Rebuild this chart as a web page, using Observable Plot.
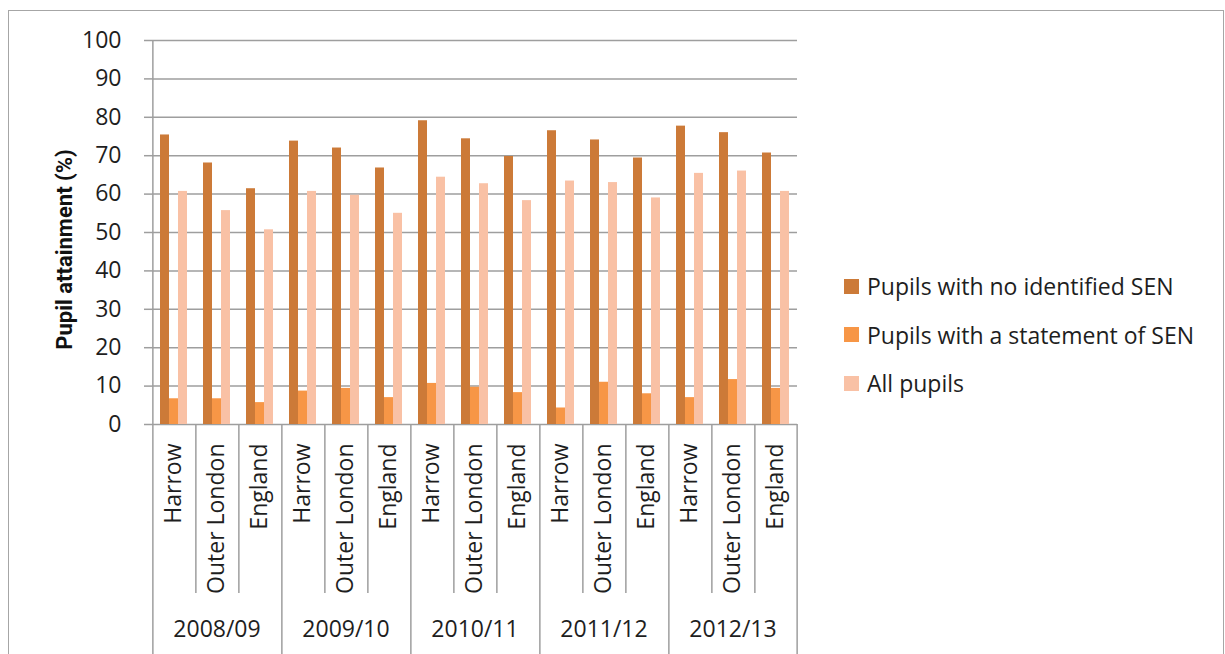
<!DOCTYPE html>
<html>
<head>
<meta charset="utf-8">
<script src="https://cdn.jsdelivr.net/npm/d3@7"></script>
<script src="https://cdn.jsdelivr.net/npm/@observablehq/plot@0.6"></script>
<style>
  html, body { margin: 0; padding: 0; background: #fff; width: 1225px; height: 654px; overflow: hidden; }
  #frame { position: absolute; left: 8px; top: 10px; width: 1216px; height: 700px; border: 1.5px solid #a6a6a6; box-sizing: border-box; }
  #chart { position: absolute; left: 0; top: 0; }
  #legend { position: absolute; left: 844px; top: 262px; font-family: "Open Sans", sans-serif; font-size: 23px; color: #1e1e1e; }
  #legend .row { display: flex; align-items: center; height: 48.5px; white-space: nowrap; }
  #legend .sw { width: 15px; height: 15px; margin-right: 8px; flex: none; }
</style>
</head>
<body>
<div id="frame"></div>
<div id="chart"></div>
<div id="legend"></div>
<script>
// ---- Data ----
const years = ["2008/09", "2009/10", "2010/11", "2011/12", "2012/13"];
const regions = ["Harrow", "Outer London", "England"];
const series = ["Pupils with no identified SEN", "Pupils with a statement of SEN", "All pupils"];
// values in order year x region (Harrow, Outer London, England)
const noSEN        = [75.4, 68.1, 61.4,  73.8, 72.0, 66.8,  79.1, 74.4, 69.8,  76.5, 74.1, 69.4,  77.7, 76.0, 70.7];
const statementSEN = [ 6.7,  6.7,  5.7,   8.7,  9.4,  7.0,  10.7,  9.7,  8.3,   4.3, 11.0,  8.0,   7.0, 11.7,  9.4];
const allPupils    = [60.7, 55.7, 50.7,  60.7, 59.7, 55.0,  64.4, 62.7, 58.3,  63.4, 63.0, 59.0,  65.4, 66.0, 60.7];
const yTicks = [0, 10, 20, 30, 40, 50, 60, 70, 80, 90, 100];
const colors = ["#CC7A38", "#F79646", "#F9C1A5"];

// ---- Build table ----
const values = [noSEN, statementSEN, allPupils];
const keys = years.flatMap(y => regions.map(r => `${y}|${r}`));
const rows = [];
keys.forEach((k, i) => {
  const [year, region] = k.split("|");
  series.forEach((s, j) => rows.push({key: k, year, region, series: s, value: values[j][i]}));
});
const groups = keys.map(k => { const [year, region] = k.split("|"); return {key: k, year, region}; });

// ---- Layout ----
const W = 1225, H = 654, ml = 147, mr = 423, mt = 40, mb = 230;
const padOuter = 0.75;
const groupW = (W - ml - mr) / keys.length;
const step = groupW / (series.length + 2 * padOuter);
const edgeOffset = step / 2 + padOuter * step; // from band centre of outer series to facet edge
const pxPerUnit = (H - mt - mb) / 100;
const yShort = -169 / pxPerUnit;
const yLong = -mb / pxPerUnit;
const gridColor = "#9e9e9e";
const font = "Open Sans";

const chart = Plot.plot({
  width: W, height: H,
  marginLeft: ml, marginRight: mr, marginTop: mt, marginBottom: mb,
  style: {fontFamily: font, fontSize: "23px", color: "#1e1e1e", background: "transparent", overflow: "visible"},
  fx: {domain: keys, padding: 0, axis: null},
  x: {domain: series, paddingInner: 0, paddingOuter: padOuter, axis: null},
  y: {domain: [0, 100]},
  color: {domain: series, range: colors},
  marks: [
    Plot.ruleY(yTicks, {stroke: gridColor, strokeWidth: 1.5}),
    Plot.barY(rows, {fx: "key", x: "series", y: "value", fill: "series"}),
    // left boundary of each category (region separators & year separators)
    Plot.ruleX(groups, {fx: "key", x: () => series[0], dx: -edgeOffset,
      y1: d => d.key === keys[0] ? 100 : 0,
      y2: d => d.region === regions[0] ? yLong : yShort,
      stroke: gridColor, strokeWidth: 1.5}),
    // right boundary after the last category
    Plot.ruleX(groups.slice(-1), {fx: "key", x: () => series[series.length - 1], dx: edgeOffset,
      y1: 0, y2: yLong, stroke: gridColor, strokeWidth: 1.5}),
    Plot.axisY({ticks: yTicks, tickSize: 8, tickPadding: 23, label: null, stroke: gridColor, strokeWidth: 1.5, fill: "#1e1e1e", fontSize: 23}),
    // category labels (rotated)
    Plot.text(groups, {fx: "key", x: () => series[1], text: "region", frameAnchor: "bottom", dy: 19,
      rotate: -90, textAnchor: "end", lineAnchor: "middle", fill: "#1e1e1e", fontSize: 23}),
    // year labels
    Plot.text(years, {fx: d => `${d}|${regions[1]}`, x: () => series[1], text: d => d, frameAnchor: "bottom", dy: 205,
      lineAnchor: "middle", fill: "#1e1e1e", fontSize: 23}),
    // y axis title
    Plot.text(["Pupil attainment (%)"], {fx: () => keys[0], frameAnchor: "left", dx: -88, dy: 17, rotate: -90,
      textAnchor: "middle", lineAnchor: "middle",
      fontWeight: "bold", fontSize: 22, fontFamily: "Roboto", fill: "#111"})
  ]
});
document.getElementById("chart").appendChild(chart);

// ---- Legend ----
const legend = document.getElementById("legend");
series.forEach((s, i) => {
  const row = document.createElement("div");
  row.className = "row";
  const sw = document.createElement("span");
  sw.className = "sw";
  sw.style.background = colors[i];
  const t = document.createElement("span");
  t.textContent = s;
  row.appendChild(sw); row.appendChild(t);
  legend.appendChild(row);
});
</script>
</body>
</html>
